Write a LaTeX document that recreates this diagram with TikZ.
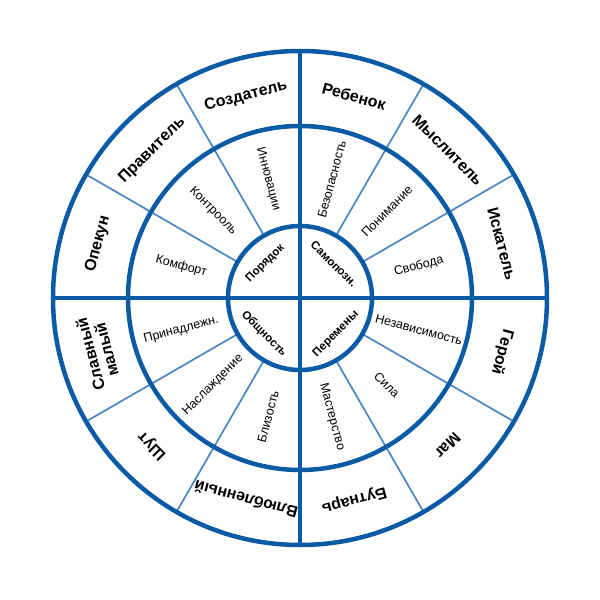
\documentclass[tikz,border=0pt]{standalone}
\usepackage{fontspec}
\setmainfont{Liberation Sans}
\usepackage{tikz}
\definecolor{wheelblue}{HTML}{0B5AA6}
\definecolor{spokeblue}{HTML}{4A86C4}
\tikzset{
  wheel/.style={
    draw=wheelblue,
    line width=4.5pt,
  },
  spoke/.style={
    draw=spokeblue,
    line width=1.7pt,
  },
  outer label/.style={
    font=\bfseries\fontsize{16}{16.5}\selectfont,
    align=center,
    inner sep=0pt,
  },
  ring label/.style={
    font=\fontsize{12.5}{13}\selectfont,
    inner sep=0pt,
  },
  core label/.style={
    font=\bfseries\fontsize{11.5}{12}\selectfont,
    inner sep=0pt,
  }
}

\begin{document}
\begin{tikzpicture}[x=1pt,y=1pt]
  \useasboundingbox (-300,-302) rectangle (300,298);

  \draw [spoke] (30:72) -- (30:247);
  \draw [spoke] (60:72) -- (60:247);
  \draw [spoke] (120:72) -- (120:247);
  \draw [spoke] (150:72) -- (150:247);
  \draw [spoke] (210:72) -- (210:247);
  \draw [spoke] (240:72) -- (240:247);
  \draw [spoke] (300:72) -- (300:247);
  \draw [spoke] (330:72) -- (330:247);

  \draw [wheel] (0,0) circle (247);
  \draw [wheel] (0,0) circle (172);
  \draw [wheel] (0,0) circle (72);
  \draw [wheel] (-247,0) -- (247,0);
  \draw [wheel] (0,-247) -- (0,247);

  \node [outer label, rotate=-75] (a1) at (15:209) {Искатель};
  \node [outer label, rotate=-45] (a2) at (45:209) {Мыслитель};
  \node [outer label, rotate=-15] (a3) at (75:209) {Ребенок};
  \node [outer label, rotate=15] (a4) at (105:209) {Создатель};
  \node [outer label, rotate=45] (a5) at (135:209) {Правитель};
  \node [outer label, rotate=75] (a6) at (165:209) {Опекун};
  \node [outer label, rotate=105] (a7) at (195:209) {Славный\\малый};
  \node [outer label, rotate=135] (a8) at (225:209) {Шут};
  \node [outer label, rotate=165] (a9) at (255:209) {Влюбленный};
  \node [outer label, rotate=195] (a10) at (285:209) {Бутнарь};
  \node [outer label, rotate=225] (a11) at (315:209) {Маг};
  \node [outer label, rotate=255] (a12) at (345:209) {Герой};

  \node [ring label, rotate=15] (m1) at (15:123) {Свобода};
  \node [ring label, rotate=45] (m2) at (45:123) {Понимание};
  \node [ring label, rotate=75] (m3) at (75:123) {Безопасность};
  \node [ring label, rotate=-75] (m4) at (105:123) {Инновации};
  \node [ring label, rotate=-45] (m5) at (135:123) {Контрооль};
  \node [ring label, rotate=-15] (m6) at (165:123) {Комфорт};
  \node [ring label, rotate=15] (m7) at (195:123) {Принадлежн.};
  \node [ring label, rotate=45] (m8) at (225:123) {Наслаждение};
  \node [ring label, rotate=75] (m9) at (255:123) {Близость};
  \node [ring label, rotate=-75] (m10) at (285:123) {Мастерство};
  \node [ring label, rotate=-45] (m11) at (315:123) {Сила};
  \node [ring label, rotate=-15] (m12) at (345:123) {Независимость};

  \node [core label, rotate=-45] (c1) at (45:48) {Самопозн.};
  \node [core label, rotate=45] (c2) at (135:49) {Порядок};
  \node [core label, rotate=-45] (c3) at (225:51) {Общность};
  \node [core label, rotate=45] (c4) at (315:51) {Перемены};
\end{tikzpicture}
\end{document}
